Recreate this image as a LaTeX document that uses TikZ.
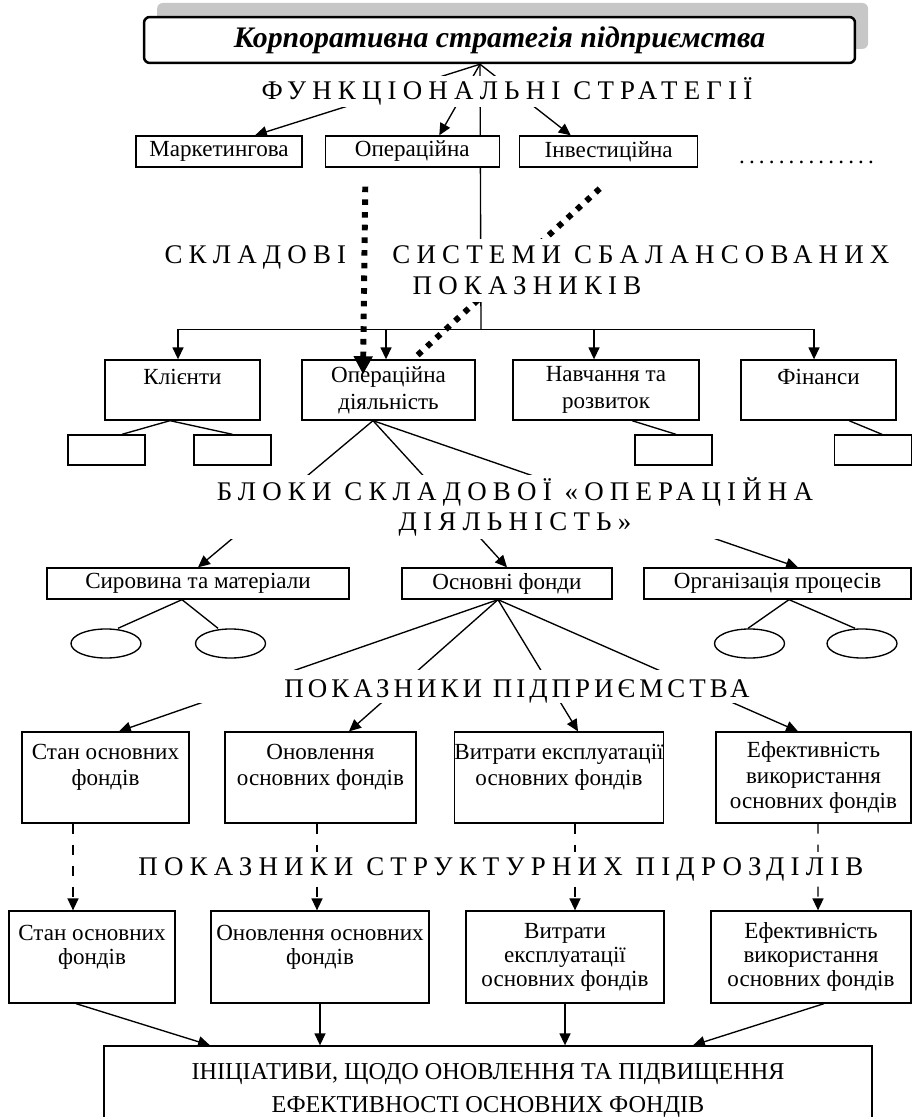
\documentclass[tikz,border=0pt]{standalone}
\usepackage{fontspec}
\setmainfont{Liberation Serif}
\newfontfamily\spacedfont[LetterSpace=23]{Liberation Serif}
\newfontfamily\dotrowfont[LetterSpace=18]{Liberation Serif}
\usetikzlibrary{shapes.geometric, arrows.meta, positioning, calc, backgrounds, shadows}
\tikzstyle{corp} = [rectangle, rounded corners=3pt, line width=1.3pt, draw=black, fill=white, minimum width=369.7pt, minimum height=23.9pt, inner sep=0pt, font=\fontsize{15.5}{18}\selectfont\bfseries\itshape, drop shadow={shadow xshift=6.8pt, shadow yshift=7.3pt, fill=black!22, opacity=1}]
\tikzstyle{box} = [rectangle, draw=black, line width=0.7pt, fill=white, inner sep=0pt, align=center, font=\fontsize{12}{14}\selectfont]
\tikzstyle{strategy} = [box, minimum height=16.1pt]
\tikzstyle{scorecard} = [box, minimum height=31.2pt]
\tikzstyle{smallbox} = [box, minimum width=40pt, minimum height=15.6pt]
\tikzstyle{indicator} = [box, minimum height=47.3pt, font=\fontsize{12}{13.3}\selectfont]
\tikzstyle{unitindicator} = [box, minimum height=47.8pt, font=\fontsize{12}{12.5}\selectfont]
\tikzstyle{heading} = [fill=white, inner xsep=2pt, inner ysep=0pt, align=center, font=\spacedfont\fontsize{14}{16}\selectfont]
\tikzstyle{dotrow} = [anchor=base, inner sep=0pt, font=\dotrowfont\fontsize{12}{14}\selectfont]
\tikzstyle{oval} = [ellipse, draw=black, line width=0.7pt, fill=white, minimum width=36.4pt, minimum height=15.1pt, inner sep=0pt]
\tikzstyle{link} = [line width=0.7pt]
\tikzstyle{arrow} = [line width=0.7pt, -{Triangle[length=6.2pt, width=5.7pt]}]
\tikzstyle{dasharrow} = [arrow, dash pattern=on 5.2pt off 5.7pt]
\tikzstyle{squaredots} = [line width=3.1pt, dash pattern=on 2.9pt off 3.7pt]
\begin{document}
\begin{tikzpicture}[x=0.52pt, y=-0.52pt]
 \useasboundingbox (0,0) rectangle (913,1117);

 % strategy level
 \node (corporate) [corp] at (499.5,40) {Корпоративна стратегія підприємства};
 \coordinate (apex) at ($(corporate.south)+(-19.5,0)$);
 \node (funcs) [heading, anchor=base, text height=12.5pt, text depth=3.6pt] at (507,100) {ФУНКЦІОНАЛЬНІ СТРАТЕГІЇ};
 \node (marketing) [strategy, minimum width=86.3pt] at (219,151.5) {Маркетингова};
 \node (operations) [strategy, minimum width=90.5pt, right=11.4pt of marketing] {Операційна};
 \node (investment) [strategy, minimum width=92.6pt, right=9.9pt of operations] {Інвестиційна};
 \node (moredots) [dotrow] at (806.5,164) {..............};

 % balanced scorecard
 \node (bsc) [heading, minimum height=32.8pt] at (527,270.5) {СКЛАДОВІ\hspace{24pt}СИСТЕМИ СБАЛАНСОВАНИХ\\ПОКАЗНИКІВ};
 \node (clients) [scorecard, minimum width=80.6pt] at (182.5,390) {Клієнти\\~};
 \node (processes) [scorecard, minimum width=90pt] at (388.5,390) {Операційна\\діяльність};
 \node (learning) [scorecard, minimum width=96.7pt] at (606,390) {Навчання та\\розвиток};
 \node (finance) [scorecard, minimum width=80.6pt] at (818.5,390) {Фінанси\\~};
 \node (clientsub1) [smallbox] at (106.5,450) {};
 \node (clientsub2) [smallbox] at (232.5,450) {};
 \node (learningsub) [smallbox] at (673.5,450) {};
 \node (financesub) [smallbox] at (873,450) {};

 % blocks of the operational component
 \node (blocks) [heading, minimum height=32.8pt] at (515,507) {БЛОКИ СКЛАДОВОЇ «ОПЕРАЦІЙНА\\ДІЯЛЬНІСТЬ»};
 \node (materials) [strategy, minimum width=157pt] at (198,583.5) {Сировина та матеріали};
 \node (assets) [strategy, minimum width=109.2pt] at (507,583.5) {Основні фонди};
 \node (organization) [strategy, minimum width=138.8pt] at (777.5,583.5) {Організація процесів};
 \node (matoval1) [oval] at (106,643.5) {};
 \node (matoval2) [oval] at (230.5,643.5) {};
 \node (orgoval1) [oval] at (749.5,643.5) {};
 \node (orgoval2) [oval] at (862,643.5) {};

 % enterprise indicators
 \node (entind) [heading, anchor=base, minimum width=333pt, text height=14pt, text depth=3.1pt, font=\spacedfont\addfontfeature{LetterSpace=15}\fontsize{14}{16}\selectfont] at (517,697) {ПОКАЗНИКИ ПІДПРИЄМСТВА};
 \node (state) [indicator, minimum width=86.8pt] at (105.5,777.5) {Стан основних\\фондів\\~};
 \node (renewal) [indicator, minimum width=99.3pt] at (320.5,777.5) {Оновлення\\основних фондів\\~};
 \node (costs) [indicator, minimum width=103pt] at (559,777.5) {Витрати експлуатації\\основних фондів\\~};
 \node (efficiency) [indicator, minimum width=101.4pt] at (813.5,777.5) {Ефективність\\використання\\основних фондів};

 % unit indicators
 \node (unitind) [heading, anchor=base, text height=12pt, text depth=3.1pt] at (501,875) {ПОКАЗНИКИ СТРУКТУРНИХ ПІДРОЗДІЛІВ};
 \node (unitstate) [unitindicator, minimum width=86.3pt] at (92,957) {Стан основних\\фондів\\~};
 \node (unitrenewal) [unitindicator, minimum width=113.4pt] at (320,957) {Оновлення основних\\фондів\\~};
 \node (unitcosts) [unitindicator, minimum width=103pt] at (565,957) {Витрати\\експлуатації\\основних фондів};
 \node (unitefficiency) [unitindicator, minimum width=104pt] at (811,957) {Ефективність\\використання\\основних фондів};
 \node (initiatives) [box, minimum width=399.4pt, minimum height=46.8pt, font=\fontsize{12.6}{17.2}\selectfont] at (488,1091) {ІНІЦІАТИВИ, ЩОДО ОНОВЛЕННЯ ТА ПІДВИЩЕННЯ\\ЕФЕКТИВНОСТІ ОСНОВНИХ ФОНДІВ};

 \begin{scope}[on background layer]
  \draw [arrow] (apex) -- ($(marketing.north)+(36,0)$);
  \draw [arrow] (apex) -- ($(operations.north)+(27,0)$);
  \draw [arrow] (apex) -- ($(investment.north)+(-38,0)$);
  \coordinate (bus) at ($(apex |- processes.north)+(1,-30)$);
  \draw [link] (apex) -- (bus);
  \draw [arrow] (bus) -| ($(clients.north)+(-4.5,0)$);
  \draw [arrow] (bus) -| ($(processes.north)+(-2.5,0)$);
  \draw [arrow] (bus) -| ($(learning.north)+(-12,0)$);
  \draw [arrow] (bus) -| ($(finance.north)+(-4.5,0)$);
  \draw [squaredots] ($(investment.south)+(-9,21)$) -- ($(processes.north)+(24.5,0)$);
  \draw [link] ($(clients.south)+(-12.5,0)$) -- ($(clientsub1.north)+(15.5,0)$);
  \draw [link] ($(clients.south)+(-12.5,0)$) -- (clientsub2.north);
  \draw [link] ($(learning.south)+(26,0)$) -- ($(learningsub.north)+(2.5,0)$);
  \draw [link] ($(finance.south)+(30.5,0)$) -- ($(financesub.north)+(9,0)$);
  \draw [arrow] ($(processes.south)+(-15.5,0)$) -- (materials.north);
  \draw [arrow] ($(processes.south)+(-15.5,0)$) -- (assets.north);
  \draw [arrow] ($(processes.south)+(-15.5,0)$) -- ($(organization.north)+(20.5,0)$);
  \draw [link] ($(materials.south)+(-16,0)$) -- ($(matoval1.north)+(12,0)$);
  \draw [link] ($(materials.south)+(-16,0)$) -- ($(matoval2.north)+(-12.5,0)$);
  \draw [link] ($(organization.south)+(11.5,0)$) -- ($(orgoval1.north)+(-1.5,0)$);
  \draw [link] ($(organization.south)+(11.5,0)$) -- ($(orgoval2.north)+(-7,0)$);
  \draw [arrow] ($(assets.south)+(-9,0)$) -- ($(state.north)+(13.5,0)$);
  \draw [arrow] ($(assets.south)+(-9,0)$) -- ($(renewal.north)+(28.5,0)$);
  \draw [arrow] ($(assets.south)+(-9,0)$) -- ($(costs.north)+(19,0)$);
  \draw [arrow] ($(assets.south)+(-9,0)$) -- ($(efficiency.north)+(-15.5,0)$);
  \draw [dasharrow] ($(state.south)+(-32.5,0)$) -- ($(unitstate.north)+(-19,0)$);
  \draw [dasharrow] ($(renewal.south)+(-3.5,0)$) -- ($(unitrenewal.north)+(-3,0)$);
  \draw [dasharrow] ($(costs.south)+(16,0)$) -- ($(unitcosts.north)+(10,0)$);
  \draw [dasharrow] ($(efficiency.south)+(4.5,0)$) -- ($(unitefficiency.north)+(7,0)$);
  \draw [arrow] ($(unitstate.south)+(-16,0)$) -- ($(initiatives.north)+(-278,0)$);
  \draw [arrow] (unitrenewal.south) -- (unitrenewal.south |- initiatives.north);
  \draw [arrow] (unitcosts.south) -- (unitcosts.south |- initiatives.north);
  \draw [arrow] ($(unitefficiency.south)+(13,0)$) -- ($(initiatives.north)+(205,0)$);
 \end{scope}

 \draw [squaredots, -{Triangle[length=9.4pt, width=9.4pt]}] ($(operations.south)+(-47,19)$) -- ($(processes.north)+(-25.5,15)$);
\end{tikzpicture}
\end{document}
